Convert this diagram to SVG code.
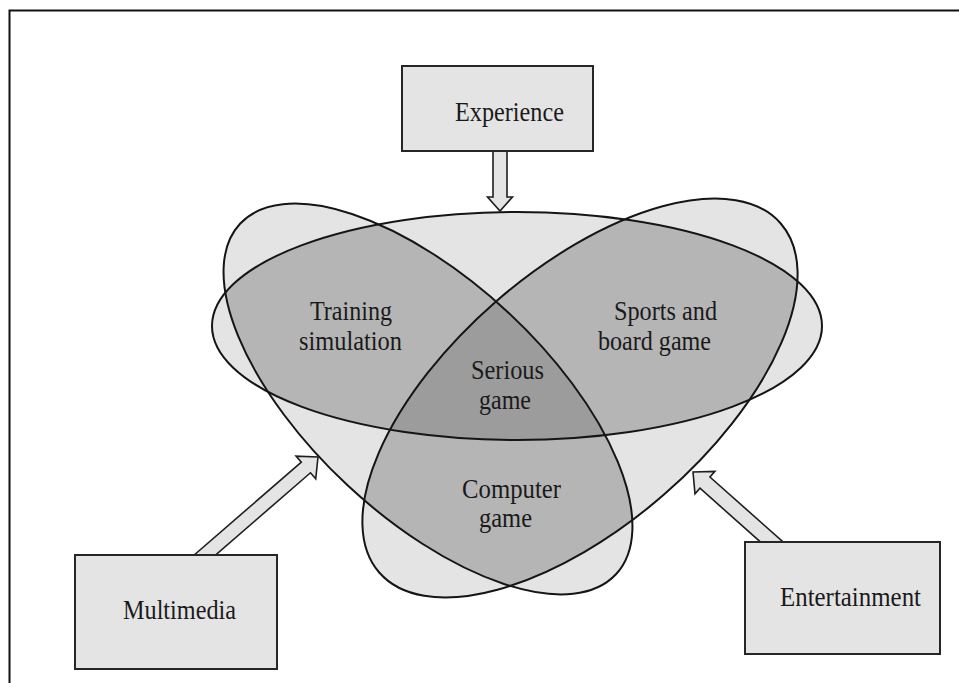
<svg xmlns="http://www.w3.org/2000/svg" xmlns:xlink="http://www.w3.org/1999/xlink" width="959" height="683" viewBox="0 0 959 683">
  <style>
    .light { fill: #e4e4e4; }
    .mid { fill: #b5b5b5; }
    .dark { fill: #9c9c9c; }
    .outline { fill: none; stroke: #151515; stroke-width: 2; }
    .box { fill: #e4e4e4; stroke: #262626; stroke-width: 2; }
    .arrow { fill: #e4e4e4; stroke: #1e1e1e; stroke-width: 1.6; stroke-linejoin: miter; }
    .lbl { font-family: "Liberation Serif", "Times New Roman", serif; font-size: 28px; fill: #1a1a1a; text-anchor: middle; }
    .frame { fill: none; stroke: #111; stroke-width: 2; }
  </style>
  <defs>
    <ellipse id="H" cx="517" cy="326" rx="305" ry="114"/>
    <ellipse id="L" cx="428" cy="399" rx="257" ry="118" transform="rotate(43 428 399)"/>
    <ellipse id="R" cx="580" cy="398" rx="266" ry="128" transform="rotate(-41 580 398)"/>
    <clipPath id="clipH"><use xlink:href="#H"/></clipPath>
    <clipPath id="clipL"><use xlink:href="#L"/></clipPath>
    <clipPath id="clipR"><use xlink:href="#R"/></clipPath>
  </defs>

  <rect x="0" y="0" width="959" height="683" fill="#ffffff"/>
  <polyline class="frame" points="9.5,683 9.5,10.5 959,10.5"/>

  <g id="venn">
    <use xlink:href="#H" class="light"/>
    <use xlink:href="#L" class="light"/>
    <use xlink:href="#R" class="light"/>
    <use xlink:href="#L" class="mid" clip-path="url(#clipH)"/>
    <use xlink:href="#R" class="mid" clip-path="url(#clipH)"/>
    <use xlink:href="#R" class="mid" clip-path="url(#clipL)"/>
    <g clip-path="url(#clipH)">
      <use xlink:href="#L" class="dark" clip-path="url(#clipR)"/>
    </g>
    <use xlink:href="#H" class="outline"/>
    <use xlink:href="#L" class="outline"/>
    <use xlink:href="#R" class="outline"/>
  </g>

  <g id="connectors">
    <polygon class="arrow" points="493,148 507,148 507,197 512.5,197 500,211 487.5,197 493,197"/>
    <polygon class="arrow" transform="translate(318 457) rotate(-40.9)" points="-165,-7 -16,-7 -16,-15 0,0 -16,15 -16,7 -165,7"/>
    <polygon class="arrow" transform="translate(693 472) rotate(221.6)" points="-125,-7.5 -16,-7.5 -16,-15 0,0 -16,15 -16,7.5 -125,7.5"/>
  </g>

  <g id="node-experience">
    <rect class="box" x="402" y="66" width="191" height="85"/>
    <text class="lbl" x="509.5" y="121" font-size="32" textLength="109" lengthAdjust="spacingAndGlyphs">Experience</text>
  </g>
  <g id="node-multimedia">
    <rect class="box" x="75" y="555" width="202" height="114"/>
    <text class="lbl" x="179.5" y="619" font-size="32" textLength="113" lengthAdjust="spacingAndGlyphs">Multimedia</text>
  </g>
  <g id="node-entertainment">
    <rect class="box" x="745" y="542" width="195" height="112"/>
    <text class="lbl" x="850.5" y="606" font-size="32" textLength="141" lengthAdjust="spacingAndGlyphs">Entertainment</text>
  </g>

  <g id="region-training">
    <text class="lbl" x="351" y="320" textLength="82" lengthAdjust="spacingAndGlyphs">Training</text>
    <text class="lbl" x="350.5" y="350" textLength="103" lengthAdjust="spacingAndGlyphs">simulation</text>
  </g>
  <g id="region-sports">
    <text class="lbl" x="665.5" y="320" textLength="103" lengthAdjust="spacingAndGlyphs">Sports and</text>
    <text class="lbl" x="654.5" y="350" textLength="113" lengthAdjust="spacingAndGlyphs">board game</text>
  </g>
  <g id="region-serious">
    <text class="lbl" x="507.5" y="379" textLength="73" lengthAdjust="spacingAndGlyphs">Serious</text>
    <text class="lbl" x="505" y="409" textLength="52" lengthAdjust="spacingAndGlyphs">game</text>
  </g>
  <g id="region-computer">
    <text class="lbl" x="511.5" y="498" textLength="99" lengthAdjust="spacingAndGlyphs">Computer</text>
    <text class="lbl" x="505.5" y="527" textLength="53" lengthAdjust="spacingAndGlyphs">game</text>
  </g>
</svg>
